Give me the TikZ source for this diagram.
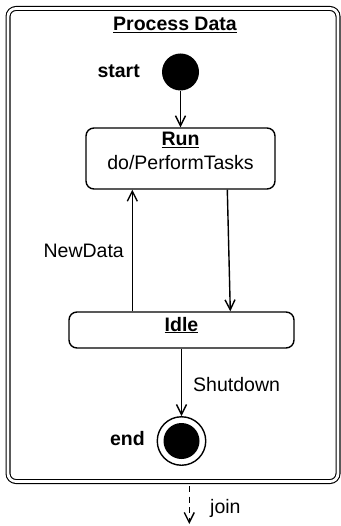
\documentclass[tikz,border=0pt]{standalone}
\usepackage{fontspec}
\setmainfont{Liberation Sans}
\usetikzlibrary{arrows.meta,calc}

% bold text with a heavy underline just below the baseline
\newcommand\ulbold[1]{\textbf{\setbox0\hbox{#1}\rlap{\raisebox{-2.4pt}{\rule{\wd0}{1.3pt}}}\box0}}

\tikzset{
  every node/.style={font=\fontsize{19.5}{23.4}\selectfont, inner sep=0pt},
  frame/.style={draw, double, double distance=2.8pt, line width=1.1pt,
                rounded corners=8pt, rectangle, minimum width=330pt, minimum height=473pt},
  statebox/.style={draw, line width=1.4pt, rounded corners=8pt, rectangle},
  initial/.style={circle, fill=black, minimum size=37pt},
  finalring/.style={circle, draw, line width=1.4pt, minimum size=48.5pt},
  finaldot/.style={circle, fill=black, minimum size=36pt},
  trans/.style={line width=1.4pt, -{Straight Barb[length=10pt,width=10pt,line width=1.4pt]}},
  lbl/.style={anchor=base west},
  lblr/.style={anchor=base east},
}

\begin{document}
\begin{tikzpicture}[x=1pt, y=-1pt]
  \useasboundingbox (0,0) rectangle (340,526);

  % composite state frame and its title
  \node[frame] (frame) at (173,245) {};
  \node[anchor=base] (title) at (175,31) {\ulbold{Process Data}};

  % pseudo states
  \node[initial] (start) at (180.5,72) {};
  \node[lblr] (startlbl) at (140,78) {\textbf{start}};

  \node[finalring] (endring) at (181.5,441) {};
  \node[finaldot] (enddot) at (181.5,441) {};
  \node[lblr] (endlbl) at (145,445) {\textbf{end}};

  % simple states
  \node[statebox, minimum width=189pt, minimum height=61pt] (run) at (180.5,158.5) {};
  \node[anchor=base] (runname) at (180.5,146) {\ulbold{Run}};
  \node[anchor=base] (runact) at (180.5,170) {do/PerformTasks};

  \node[statebox, minimum width=225pt, minimum height=36pt] (idle) at (181.5,330) {};
  \node[anchor=base] (idlename) at (181.5,331) {\ulbold{Idle}};

  % transitions
  \draw[trans] (start.south) -- (run.north);
  \draw[trans] ($(run.south west)+(142,0)$) -- ($(idle.north west)+(162,0)$);
  \draw[trans] ($(idle.north west)+(64,0)$) -- ($(run.south west)+(47,0)$);
  \draw[trans] (idle.south) -- (endring.north);

  \node[lblr] (newdata) at (124,257) {NewData};
  \node[lbl] (shutdown) at (193,391) {Shutdown};

  % outgoing join transition
  \coordinate (joinend) at (189.3,524);
  \draw[trans, dash pattern=on 6pt off 4.5pt, shorten <=4pt] (frame.south -| joinend) -- (joinend);
  \node[lbl] (join) at (210,513) {join};
\end{tikzpicture}
\end{document}
